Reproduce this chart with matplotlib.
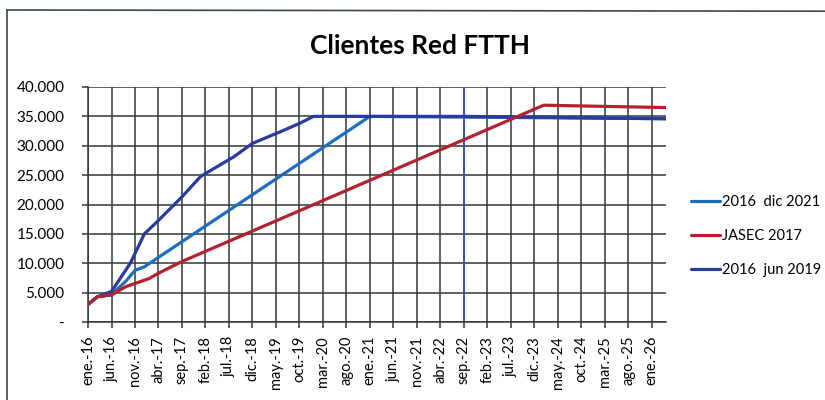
import matplotlib
matplotlib.use('Agg')
import matplotlib.pyplot as plt
from matplotlib.lines import Line2D

# month index counted from ene-16
tick_labels = ['ene.-16', 'jun.-16', 'nov.-16', 'abr.-17', 'sep.-17', 'feb.-18', 'jul.-18',
               'dic.-18', 'may.-19', 'oct.-19', 'mar.-20', 'ago.-20', 'ene.-21', 'jun.-21',
               'nov.-21', 'abr.-22', 'sep.-22', 'feb.-23', 'jul.-23', 'dic.-23', 'may.-24',
               'oct.-24', 'mar.-25', 'ago.-25', 'ene.-26']
tick_months = [5 * i for i in range(len(tick_labels))]

dic2021_months = [0, 2, 5, 8, 10, 12, 60, 123]
dic2021_values = [3000, 4300, 4650, 6900, 8800, 9400, 35000, 34600]

jasec_months = [0, 2, 5, 8, 13, 15, 20, 97, 123]
jasec_values = [3000, 4300, 4600, 6000, 7400, 8300, 10300, 36900, 36500]

jun2019_months = [0, 2, 5, 9, 12, 15, 20, 24, 31, 35, 41, 45, 48, 80, 123]
jun2019_values = [3000, 4300, 5200, 10000, 15000, 17300, 21300, 24800, 28100, 30400,
                  32400, 33800, 35000, 35000, 34600]

y_ticks = [0, 5000, 10000, 15000, 20000, 25000, 30000, 35000, 40000]

plt.rcParams['font.family'] = ['Lato', 'DejaVu Sans']

fig = plt.figure(figsize=(8.25, 4), dpi=100)
ax = fig.add_axes([0.1067, 0.195, 0.7003, 0.5875])

grid_col = '#2f3a35'
ax.plot(dic2021_months, dic2021_values, color='#1f6cbf', lw=2.3, zorder=3,
        solid_capstyle='round', label='2016  dic 2021')
ax.plot(jun2019_months, jun2019_values, color='#2b3a9e', lw=2.3, zorder=4,
        solid_capstyle='round', label='2016  jun 2019')
ax.plot(jasec_months, jasec_values, color='#b3202e', lw=2.3, zorder=5,
        solid_capstyle='round', label='JASEC 2017')

ax.set_xlim(0, 123)
ax.set_ylim(0, 40000)
ax.set_xticks(tick_months)
ax.set_xticklabels(tick_labels, rotation=90, fontsize=10.5)
ax.set_yticks(y_ticks)
ax.set_yticklabels(['-' if v == 0 else f'{v:,}'.replace(',', '.') for v in y_ticks], fontsize=11)
ax.tick_params(axis='both', length=4, width=1.1, color=grid_col)
ax.tick_params(axis='y', pad=13)
ax.tick_params(axis='x', pad=6)
ax.grid(True, color=grid_col, lw=1.1)
ax.axvline(80, color='#3550c0', lw=1.3, zorder=2)
for s in ['top', 'right']:
    ax.spines[s].set_visible(False)
for s in ['left', 'bottom']:
    ax.spines[s].set_color(grid_col)
    ax.spines[s].set_linewidth(1.1)

fig.text(0.509, 0.885, 'Clientes Red FTTH', ha='center', va='center',
         fontsize=19, fontweight='bold')

handles, labels = ax.get_legend_handles_labels()
order = [0, 2, 1]
fig.legend([handles[i] for i in order], [labels[i] for i in order],
           loc='center left', bbox_to_anchor=(0.822, 0.41), frameon=False,
           fontsize=10.5, handlelength=2.0, handletextpad=0.1, labelspacing=1.35)

fig.add_artist(Line2D([7 / 825, 1], [0.975, 0.972], color='#3a4a48', lw=1.2))
fig.add_artist(Line2D([7 / 825, 7 / 825], [0.975, 0], color='#3a4a48', lw=1.2))

fig.savefig('out.png', dpi=100, facecolor='white')
